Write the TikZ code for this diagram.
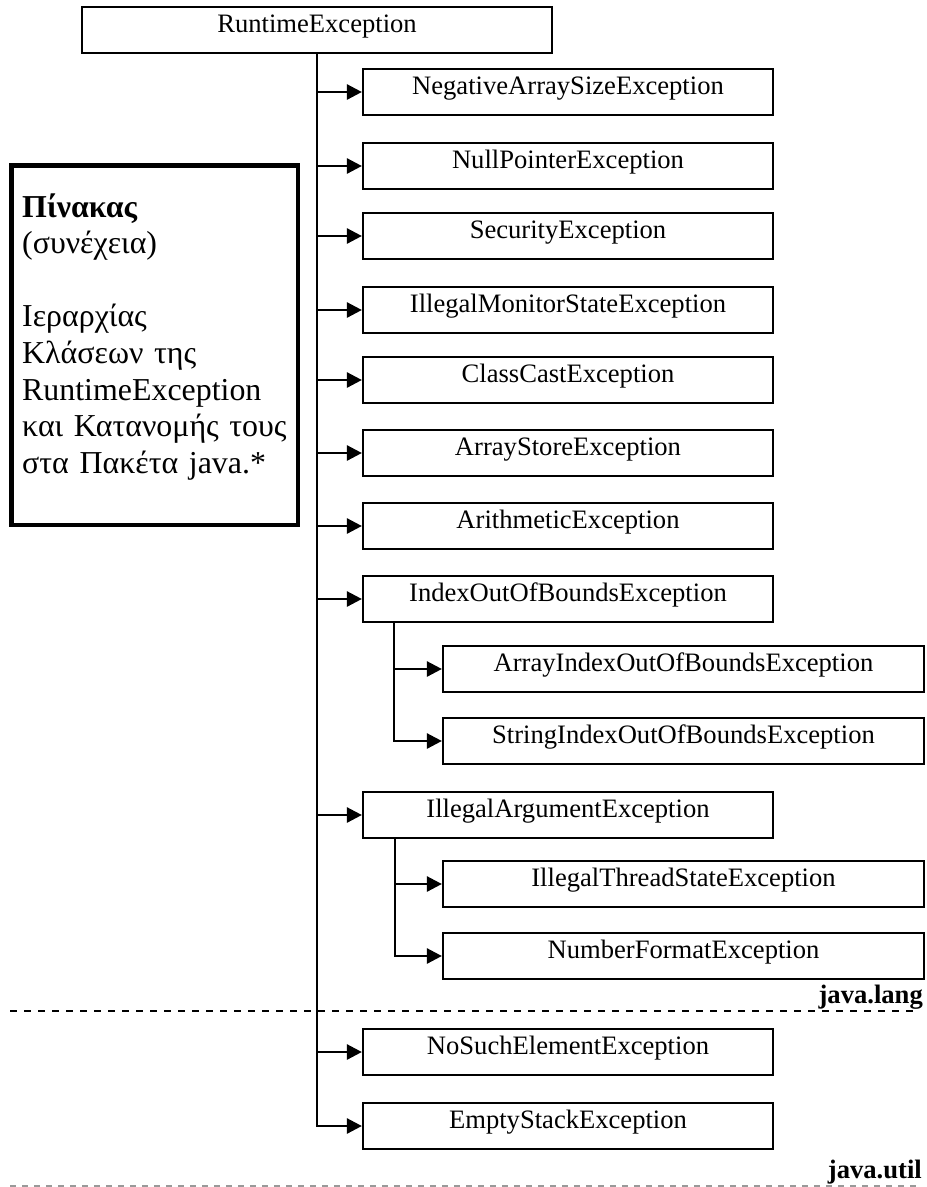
\documentclass[tikz,border=0pt]{standalone}
\usepackage{fontspec}
\setmainfont{Liberation Serif}
\usetikzlibrary{arrows.meta,calc}
\begin{document}
\begin{tikzpicture}[x=1pt,y=-1pt,
  cls/.style={draw, line width=2.2pt, inner sep=0pt, minimum height=46pt,
    text height=25pt, text depth=21pt, font=\fontsize{26.6pt}{31pt}\selectfont},
  lvlone/.style={cls, minimum width=410pt},
  lvltwo/.style={cls, minimum width=481pt},
  trunk/.style={line width=2pt, line cap=rect},
  inh/.style={line width=2.6pt, -{Triangle[length=15pt,width=15pt]}},
  pkg/.style={anchor=base east, inner sep=0pt, font=\fontsize{26.6pt}{31pt}\selectfont\bfseries},
]
\useasboundingbox (0,0) rectangle (927,1187);

% root class
\node[cls, minimum width=470pt] (rt) at (317,30) {RuntimeException};

% direct subclasses
\node[lvlone] (neg)  at (568,92)   {NegativeArraySizeException};
\node[lvlone] (npe)  at (568,166)  {NullPointerException};
\node[lvlone] (sec)  at (568,236)  {SecurityException};
\node[lvlone] (ims)  at (568,310)  {IllegalMonitorStateException};
\node[lvlone] (cce)  at (568,380)  {ClassCastException};
\node[lvlone] (ase)  at (568,453)  {ArrayStoreException};
\node[lvlone] (ae)   at (568,526)  {ArithmeticException};
\node[lvlone] (ioob) at (568,599)  {IndexOutOfBoundsException};
\node[lvltwo] (aioob) at (683.5,669) {ArrayIndexOutOfBoundsException};
\node[lvltwo] (sioob) at (683.5,741) {StringIndexOutOfBoundsException};
\node[lvlone] (iae)  at (568,815)  {IllegalArgumentException};
\node[lvltwo] (itse) at (683.5,884) {IllegalThreadStateException};
\node[lvltwo] (nfe)  at (683.5,956) {NumberFormatException};
\node[lvlone] (nsee) at (568,1052) {NoSuchElementException};
\node[lvlone] (ese)  at (568,1126) {EmptyStackException};

% main trunk and its branches
\draw[trunk] (rt.south) -- (rt.south |- ese.west);
\foreach \n in {neg,npe,sec,ims,cce,ase,ae,ioob,iae,nsee,ese}
  \draw[inh] (rt.south |- \n.west) -- (\n.west);

% second-level trunks
\coordinate (ioobsub) at ($(ioob.south west)+(32,0)$);
\draw[trunk] (ioobsub) -- (ioobsub |- sioob.west);
\foreach \n in {aioob,sioob}
  \draw[inh] (ioobsub |- \n.west) -- (\n.west);

\coordinate (iaesub) at ($(iae.south west)+(33,0)$);
\draw[trunk] (iaesub) -- (iaesub |- nfe.west);
\foreach \n in {itse,nfe}
  \draw[inh] (iaesub |- \n.west) -- (\n.west);

% caption box
\node[draw, line width=4.5pt, inner sep=0pt, minimum width=286.5pt,
  minimum height=359.5pt] (notebox) at (154.5,345) {};
\node[anchor=base west, inner sep=0pt, text width=275pt, align=left,
  font=\fontsize{31.9pt}{36.6pt}\selectfont] (notetext) at (22,217)
  {\textbf{Πίνακας}\\(συνέχεια)\\[36.6pt]Ιεραρχίας\\Κλάσεων της\\RuntimeException\\και Κατανομής τους\\στα Πακέτα java.*};

% package separators
\node[pkg] (lang) at (923,1003) {java.lang};
\draw[line width=2pt, dash pattern=on 7pt off 7pt] (10,1011) -- (916,1011);
\node[pkg] (util) at (922,1178) {java.util};
\draw[black!40, line width=1.5pt, dash pattern=on 6pt off 6pt] (10,1186) -- (916,1186);
\end{tikzpicture}
\end{document}
